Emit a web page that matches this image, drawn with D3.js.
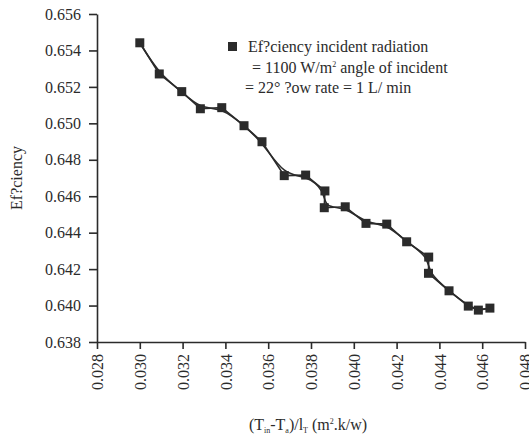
<!DOCTYPE html>
<html>
<head>
<meta charset="utf-8">
<script src="https://cdn.jsdelivr.net/npm/d3@7"></script>
<style>
  body { margin: 0; background: #fff; }
  svg text { font-family: "Liberation Serif", "Times New Roman", serif; fill: #2b2b2b; }
</style>
</head>
<body>
<div id="chart"></div>
<script>
// x: (Tin-Ta)/IT, y: efficiency
var xValues = [0.03000, 0.03091, 0.03196, 0.03283, 0.03383, 0.03487, 0.03571, 0.03675, 0.03775, 0.03865,
               0.03862, 0.03960, 0.04057, 0.04154, 0.04247, 0.04350, 0.04349, 0.04445, 0.04535, 0.04582, 0.04636];
var efficiency = [0.65442, 0.65271, 0.65174, 0.65080, 0.65086, 0.64987, 0.64899, 0.64713, 0.64716, 0.64629,
                  0.64537, 0.64542, 0.64451, 0.64447, 0.64350, 0.64266, 0.64177, 0.64081, 0.63997, 0.63975, 0.63986];
var xTicks = [0.028, 0.030, 0.032, 0.034, 0.036, 0.038, 0.040, 0.042, 0.044, 0.046, 0.048];
var yTicks = [0.638, 0.640, 0.642, 0.644, 0.646, 0.648, 0.650, 0.652, 0.654, 0.656];

var width = 529, height = 436;
var ink = "#2b2b2b";
var fs = "16px";

var points = xValues.map(function(d, i){ return {x: d, y: efficiency[i]}; });

var svg = d3.select("#chart").append("svg")
    .attr("width", width)
    .attr("height", height);

var x = d3.scaleLinear().domain([0.028, 0.048]).range([97, 525]);
var y = d3.scaleLinear().domain([0.638, 0.656]).range([342, 14]);

// axes
var yAxis = svg.append("g")
    .attr("transform", "translate(97,0)")
    .call(d3.axisLeft(y).tickValues(yTicks).tickFormat(d3.format(".3f")).tickSize(8).tickPadding(8).tickSizeOuter(0));
yAxis.selectAll("text").style("font-size", fs);

var xAxis = svg.append("g")
    .attr("transform", "translate(0,342)")
    .call(d3.axisBottom(x).tickValues(xTicks).tickFormat(d3.format(".3f")).tickSize(7).tickSizeOuter(0));
xAxis.selectAll("text")
    .style("font-size", fs)
    .attr("text-anchor", "end")
    .attr("transform", "rotate(-90)")
    .attr("x", -12)
    .attr("y", 0)
    .attr("dy", "0.35em");

svg.selectAll(".domain, .tick line").attr("stroke", ink).attr("stroke-width", 1.6);

// lines: straight through points and a smoothed one
var straight = d3.line().x(function(d){ return x(d.x); }).y(function(d){ return y(d.y); });
var smooth = d3.line().x(function(d){ return x(d.x); }).y(function(d){ return y(d.y); }).curve(d3.curveBasis);

svg.append("path").datum(points)
    .attr("d", straight).attr("fill", "none").attr("stroke", ink).attr("stroke-width", 1.6);
svg.append("path").datum(points)
    .attr("d", smooth).attr("fill", "none").attr("stroke", ink).attr("stroke-width", 1.6);

var ms = 9;
svg.selectAll("rect.pt").data(points).enter().append("rect")
    .attr("class", "pt")
    .attr("x", function(d){ return x(d.x) - ms / 2; })
    .attr("y", function(d){ return y(d.y) - ms / 2; })
    .attr("width", ms).attr("height", ms)
    .attr("fill", ink);

// legend
var leg = svg.append("g");
leg.append("rect").attr("x", 228).attr("y", 42).attr("width", 9).attr("height", 9).attr("fill", ink);
leg.append("text").attr("x", 248).attr("y", 52).style("font-size", fs).text("Ef?ciency incident radiation");
var l2 = leg.append("text").attr("x", 248).attr("y", 73).style("font-size", fs).attr("xml:space", "preserve");
l2.append("tspan").text(" = 1100 W/m");
l2.append("tspan").attr("dy", -6).style("font-size", "8px").text("2");
l2.append("tspan").attr("dy", 6).text(" angle of incident");
leg.append("text").attr("x", 245).attr("y", 93).style("font-size", fs).text("= 22° ?ow rate = 1 L/ min");

// axis titles
svg.append("text")
    .attr("transform", "translate(22,178) rotate(-90)")
    .attr("text-anchor", "middle")
    .style("font-size", fs)
    .text("Ef?ciency");

var xt = svg.append("text")
    .attr("x", 308).attr("y", 430)
    .attr("text-anchor", "middle")
    .style("font-size", fs);
xt.append("tspan").text("(T");
xt.append("tspan").attr("dy", 3).style("font-size", "8px").text("in");
xt.append("tspan").attr("dy", -3).text("-T");
xt.append("tspan").attr("dy", 3).style("font-size", "8px").text("a");
xt.append("tspan").attr("dy", -3).text(")/l");
xt.append("tspan").attr("dy", 3).style("font-size", "8px").text("T");
xt.append("tspan").attr("dy", -3).text(" (m");
xt.append("tspan").attr("dy", -6).style("font-size", "8px").text("2");
xt.append("tspan").attr("dy", 6).text(".k/w)");
</script>
</body>
</html>
